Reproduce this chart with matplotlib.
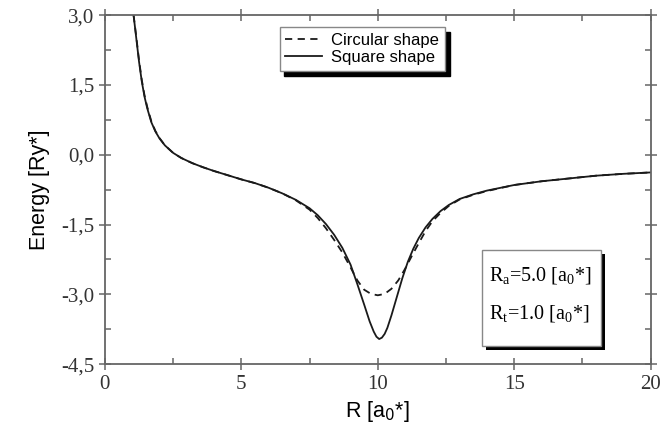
"""
Energy vs. distance R for circular and square shaped potentials.
"""

import matplotlib
matplotlib.use('Agg')
import matplotlib.pyplot as plt
from matplotlib.patches import Rectangle
from matplotlib.ticker import MultipleLocator

# solid curve (square shape)
r_square = [1.05, 1.15, 1.25, 1.35, 1.45, 1.55, 1.7, 1.85, 2.0, 2.2, 2.5, 2.8,
            3.2, 3.6, 4.0, 4.5, 5.0, 5.5, 6.0, 6.5, 7.0, 7.5, 7.8, 8.1, 8.4,
            8.7, 9.0, 9.25, 9.5, 9.7, 9.85, 9.95, 10.05, 10.15, 10.25, 10.35,
            10.5, 10.7, 10.9, 11.1, 11.3, 11.5, 11.75, 12.0, 12.3, 12.6, 13.0,
            13.5, 14.0, 15.0, 16.0, 17.0, 18.0, 19.0, 20.0]
e_square = [3.0, 2.5, 2.0, 1.58, 1.25, 1.0, 0.7, 0.5, 0.35, 0.2, 0.04, -0.07,
            -0.18, -0.27, -0.35, -0.44, -0.53, -0.61, -0.71, -0.83, -0.97,
            -1.15, -1.3, -1.49, -1.72, -2.0, -2.36, -2.78, -3.22, -3.58, -3.8,
            -3.91, -3.96, -3.93, -3.85, -3.72, -3.45, -3.05, -2.65, -2.3,
            -2.02, -1.79, -1.56, -1.38, -1.21, -1.08, -0.95, -0.85, -0.77,
            -0.65, -0.57, -0.51, -0.45, -0.41, -0.38]

# dashed curve (circular shape)
r_circ = [1.05, 1.15, 1.25, 1.35, 1.45, 1.55, 1.7, 1.85, 2.0, 2.2, 2.5, 2.8,
          3.2, 3.6, 4.0, 4.5, 5.0, 5.5, 6.0, 6.5, 7.0, 7.5, 7.8, 8.1, 8.4,
          8.7, 9.0, 9.25, 9.5, 9.75, 10.0, 10.25, 10.5, 10.75, 11.0, 11.25,
          11.5, 11.75, 12.0, 12.3, 12.6, 13.0, 13.5, 14.0, 15.0, 16.0, 17.0,
          18.0, 19.0, 20.0]
e_circ = [3.0, 2.53, 2.03, 1.61, 1.28, 1.03, 0.72, 0.51, 0.36, 0.2, 0.04, -0.07,
          -0.18, -0.27, -0.35, -0.44, -0.53, -0.61, -0.71, -0.83, -0.98,
          -1.18, -1.36, -1.58, -1.83, -2.1, -2.42, -2.7, -2.9, -2.99, -3.02,
          -2.99, -2.88, -2.7, -2.45, -2.17, -1.9, -1.64, -1.43, -1.25,
          -1.1, -0.96, -0.86, -0.78, -0.65, -0.57, -0.51, -0.45, -0.41, -0.38]

x_ticks = [0, 5, 10, 15, 20]
x_tick_labels = ['0', '5', '10', '15', '20']
y_ticks = [-4.5, -3.0, -1.5, 0.0, 1.5, 3.0]
y_tick_labels = ['-4,5', '-3,0', '-1,5', '0,0', '1,5', '3,0']

SERIF = 'Liberation Serif'
SANS = 'Liberation Sans'
AXCOL = '#666666'
LINECOL = '#1a1a1a'

fig = plt.figure(figsize=(6.64, 4.32), dpi=100)
ax = fig.add_axes([0.158, 0.157, 0.822, 0.808])

ax.plot(r_circ, e_circ, color=LINECOL, lw=1.3, ls=(0, (4, 3)),
        label='Circular shape')
ax.plot(r_square, e_square, color=LINECOL, lw=1.3, label='Square shape')

ax.set_xlim(0, 20)
ax.set_ylim(-4.5, 3.0)
ax.set_xticks(x_ticks)
ax.set_xticklabels(x_tick_labels, fontfamily=SERIF, fontsize=15,
                   color='#333333')
ax.set_yticks(y_ticks)
ax.set_yticklabels(y_tick_labels, fontfamily=SERIF, fontsize=15,
                   color='#333333')
ax.xaxis.set_minor_locator(MultipleLocator(2.5))
ax.yaxis.set_minor_locator(MultipleLocator(0.75))
ax.tick_params(which='major', direction='inout', length=9, width=1.1,
               color=AXCOL, top=True, right=True, pad=3)
ax.tick_params(which='minor', direction='in', length=4, width=1.1,
               color=AXCOL, top=True, right=True)
for sp in ax.spines.values():
    sp.set_color(AXCOL)
    sp.set_linewidth(1.3)

ax.set_xlabel('R [a$_0$*]', fontfamily=SANS, fontsize=15.5, labelpad=4)
ax.set_ylabel('Energy [Ry*]', fontfamily=SANS, fontsize=15.5, labelpad=8)

leg = ax.legend(loc='upper left', bbox_to_anchor=(0.32, 0.966),
                borderaxespad=0, fancybox=False, framealpha=1,
                edgecolor='#888888', prop={'family': SANS, 'size': 12},
                handlelength=2.2, handletextpad=0.55, labelspacing=0.15,
                borderpad=0.35,
                shadow={'color': 'black', 'alpha': 1, 'ox': 3.5, 'oy': -3.5})
leg.get_frame().set_linewidth(1.0)

# parameter box with shadow
ax.add_patch(Rectangle((0.698, 0.042), 0.218, 0.275, transform=ax.transAxes,
                       facecolor='black', edgecolor='none', zorder=4))
ax.add_patch(Rectangle((0.690, 0.052), 0.218, 0.275, transform=ax.transAxes,
                       facecolor='white', edgecolor='#888888', lw=1.0,
                       zorder=5))
ax.text(0.703, 0.255, 'R$_\\mathregular{a}$=5.0 [a$_\\mathregular{0}$*]',
        transform=ax.transAxes, fontfamily=SERIF, fontsize=14.5,
        va='center', ha='left', zorder=6)
ax.text(0.703, 0.145, 'R$_\\mathregular{t}$=1.0 [a$_\\mathregular{0}$*]',
        transform=ax.transAxes, fontfamily=SERIF, fontsize=14.5,
        va='center', ha='left', zorder=6)

fig.savefig('out.png', dpi=100)
